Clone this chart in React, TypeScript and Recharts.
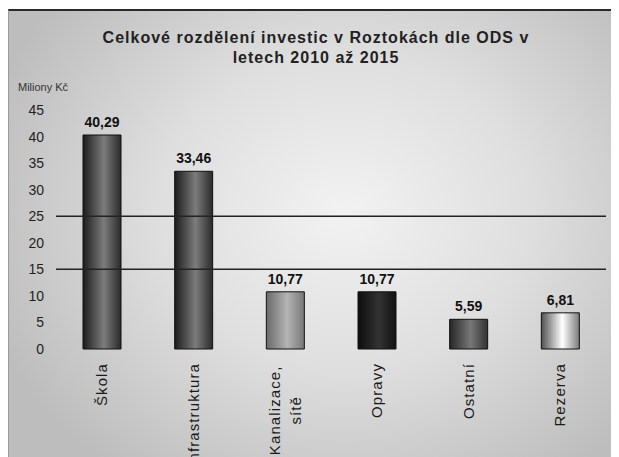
import React from "react";
import { BarChart, Bar, XAxis, YAxis, ReferenceLine, LabelList, Cell } from "recharts";

const categories = ["Škola", "Infrastruktura", "Kanalizace, sítě", "Opravy", "Ostatní", "Rezerva"];
const values = [40.29, 33.46, 10.77, 10.77, 5.59, 6.81];
const yTicks = [0, 5, 10, 15, 20, 25, 30, 35, 40, 45];
const refLines = [15, 25];

// bar gradients: left edge, highlight, right edge
const barShades = [
  ["#1c1c1c", "#7c7c7c", "#2a2a2a"],
  ["#1c1c1c", "#7c7c7c", "#2a2a2a"],
  ["#6a6a6a", "#b4b4b4", "#767676"],
  ["#0e0e0e", "#333333", "#111111"],
  ["#262626", "#787878", "#303030"],
  ["#505050", "#ffffff", "#7a7a7a"],
];

const data = categories.map((name, i) => ({ name, value: values[i] }));

const fmt = (v: number) => v.toFixed(2).replace(".", ",");

function XTick(props: any) {
  const { x, y, payload } = props;
  const label: string = payload.value;
  const lines = label.includes(", ") ? [label.split(", ")[0] + ",", label.split(", ")[1]] : [label];
  const style = { fontFamily: "Liberation Sans, Arial, sans-serif", fontSize: 15, letterSpacing: 1.1, fill: "#1a1a1a" };
  if (lines.length === 1) {
    return (
      <text transform={`translate(${x},${y + 12}) rotate(-90)`} textAnchor="end" dy={5} style={style}>
        {label}
      </text>
    );
  }
  const half = Math.max(...lines.map((l) => l.length)) * 4.3;
  return (
    <g>
      {lines.map((l, i) => (
        <text
          key={i}
          transform={`translate(${x + (i - 0.5) * 21},${y + 12}) rotate(-90)`}
          textAnchor="middle"
          x={-half}
          dy={5}
          style={style}
        >
          {l}
        </text>
      ))}
    </g>
  );
}

export default function App() {
  return (
    <div
      style={{
        position: "relative",
        width: 610,
        height: 446,
        marginTop: 1,
        borderTop: "2px solid #2a2a2a",
        borderLeft: "1px solid #9a9a9a",
        background: "radial-gradient(ellipse 62% 72% at 55% 45%, #f2f2f2 0%, #dedede 50%, #bdbdbd 100%)",
        fontFamily: "Liberation Sans, Arial, sans-serif",
        color: "#1a1a1a",
      }}
    >
      <div
        style={{
          position: "absolute",
          top: 17,
          left: 0,
          width: 614,
          textAlign: "center",
          fontWeight: "bold",
          fontSize: 16,
          letterSpacing: 1,
          lineHeight: "20px",
          color: "#222",
        }}
      >
        Celkové rozdělení investic v Roztokách dle ODS v
        <br />
        letech 2010 až 2015
      </div>
      <div style={{ position: "absolute", top: 70, left: 9, fontSize: 11, color: "#333" }}>Miliony Kč</div>
      <BarChart width={610} height={446} data={data} margin={{ top: 99, right: 13, left: 0, bottom: 0 }} barSize={38}>
        <defs>
          {barShades.map((s, i) => (
            <linearGradient key={i} id={`bg${i}`} x1="0" y1="0" x2="1" y2="0">
              <stop offset="0%" stopColor={s[0]} />
              <stop offset="55%" stopColor={s[1]} />
              <stop offset="100%" stopColor={s[2]} />
            </linearGradient>
          ))}
        </defs>
        <XAxis
          dataKey="name"
          axisLine={false}
          tickLine={false}
          tickSize={0}
          height={108}
          interval={0}
          tick={<XTick />}
        />
        <YAxis
          width={47}
          domain={[0, 45]}
          ticks={yTicks}
          axisLine={false}
          tickLine={false}
          tickSize={0}
          tickMargin={12}
          tick={{ fontSize: 14, fill: "#1f1f1f", fontFamily: "Liberation Sans, Arial, sans-serif" }}
        />
        {refLines.map((v) => (
          <ReferenceLine key={v} y={v} stroke="#222" strokeWidth={1.5} />
        ))}
        <Bar dataKey="value" stroke="#111" strokeWidth={1} isAnimationActive={false}>
          {data.map((_, i) => (
            <Cell key={i} fill={`url(#bg${i})`} />
          ))}
          <LabelList
            dataKey="value"
            position="top"
            offset={8}
            formatter={(v: any) => fmt(Number(v))}
            style={{ fontSize: 14, fontWeight: "bold", fill: "#111", fontFamily: "Liberation Sans, Arial, sans-serif" }}
          />
        </Bar>
      </BarChart>
    </div>
  );
}
